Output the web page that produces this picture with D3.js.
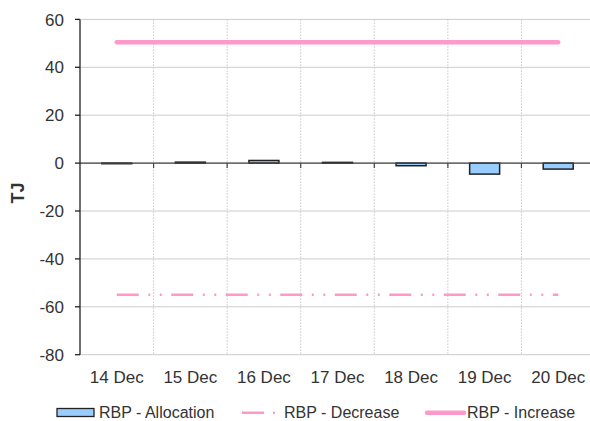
<!DOCTYPE html>
<html>
<head>
<meta charset="utf-8">
<script src="https://cdn.jsdelivr.net/npm/d3@7"></script>
<style>
  html, body { margin: 0; padding: 0; background: #fff; }
  svg { display: block; font-family: "Liberation Sans", Arial, sans-serif; }
  .tick-label { font-size: 17px; fill: #333; }
  .legend-label { font-size: 16px; fill: #333; }
</style>
</head>
<body>
<svg id="chart" width="590" height="421"></svg>
<script>
// data
const days = ['14 Dec', '15 Dec', '16 Dec', '17 Dec', '18 Dec', '19 Dec', '20 Dec'];
const allocation = [-0.2, 0.4, 1.1, 0.3, -1.1, -4.6, -2.5];
const decrease = [-55, -55, -55, -55, -55, -55, -55];
const increase = [50.5, 50.5, 50.5, 50.5, 50.5, 50.5, 50.5];
const yTicks = [60, 40, 20, 0, -20, -40, -60, -80];

const W = 590, H = 421;
const m = { left: 80, right: 595, top: 19.4, bottom: 354.7 };
const pink = '#ff99cc';

const svg = d3.select('#chart');

const x = d3.scaleBand().domain(days).range([m.left, m.right]).padding(0);
const y = d3.scaleLinear().domain([-80, 60]).range([m.bottom, m.top]);
const cx = d => x(d) + x.bandwidth() / 2;

// horizontal gridlines
svg.append('g').selectAll('line').data(yTicks).join('line')
  .attr('x1', m.left).attr('x2', W)
  .attr('y1', d => y(d)).attr('y2', d => y(d))
  .attr('stroke', '#cccccc').attr('stroke-width', 1);

// vertical gridlines (dotted) at category boundaries
svg.append('g').selectAll('line').data(days.slice(1)).join('line')
  .attr('x1', d => x(d)).attr('x2', d => x(d))
  .attr('y1', m.top).attr('y2', m.bottom)
  .attr('stroke', '#c8c8c8').attr('stroke-width', 1)
  .attr('stroke-dasharray', '1.5,1.5');

// bars
const barW = 30;
svg.append('g').selectAll('rect').data(allocation).join('rect')
  .attr('x', (d, i) => cx(days[i]) - barW / 2)
  .attr('width', barW)
  .attr('y', d => y(Math.max(0, d)))
  .attr('height', d => Math.max(0.6, Math.abs(y(d) - y(0))))
  .attr('fill', '#99ccff')
  .attr('stroke', '#222').attr('stroke-width', 1.5);

// zero axis line with category ticks
svg.append('line')
  .attr('x1', m.left).attr('x2', W)
  .attr('y1', y(0)).attr('y2', y(0))
  .attr('stroke', '#444').attr('stroke-width', 1.2);
svg.append('g').selectAll('line').data(days.slice(1)).join('line')
  .attr('x1', d => x(d)).attr('x2', d => x(d))
  .attr('y1', y(0)).attr('y2', y(0) + 5)
  .attr('stroke', '#444').attr('stroke-width', 1.2);

// increase line
const line = d3.line().x((d, i) => cx(days[i])).y(d => y(d));
svg.append('path').datum(increase)
  .attr('d', line).attr('fill', 'none')
  .attr('stroke', pink).attr('stroke-width', 4.5)
  .attr('stroke-linecap', 'round');

// decrease line
svg.append('path').datum(decrease)
  .attr('d', line).attr('fill', 'none')
  .attr('stroke', pink).attr('stroke-width', 2.5)
  .attr('stroke-dasharray', '22,9.5,2,9.5,2,9.5');

// y axis
svg.append('line')
  .attr('x1', m.left).attr('x2', m.left)
  .attr('y1', m.top).attr('y2', m.bottom)
  .attr('stroke', '#222').attr('stroke-width', 1.3);
svg.append('g').selectAll('line').data(yTicks).join('line')
  .attr('x1', m.left - 5).attr('x2', m.left)
  .attr('y1', d => y(d)).attr('y2', d => y(d))
  .attr('stroke', '#222').attr('stroke-width', 1.3);
svg.append('g').selectAll('text').data(yTicks).join('text')
  .attr('class', 'tick-label')
  .attr('x', 64).attr('y', d => y(d)).attr('dy', '0.36em')
  .attr('text-anchor', 'end')
  .text(d => d);

// x labels
svg.append('g').selectAll('text').data(days).join('text')
  .attr('class', 'tick-label')
  .attr('x', d => cx(d)).attr('y', 382.5)
  .attr('text-anchor', 'middle')
  .text(d => d);

// y title
svg.append('text')
  .attr('transform', 'translate(23.5,193) rotate(-90)')
  .attr('text-anchor', 'middle')
  .attr('font-size', 18).attr('font-weight', 'bold').attr('fill', '#333')
  .text('TJ');

// legend
const lg = svg.append('g');
lg.append('rect').attr('x', 57).attr('y', 408.5).attr('width', 37).attr('height', 8)
  .attr('fill', '#99ccff').attr('stroke', '#222').attr('stroke-width', 1.3);
lg.append('text').attr('class', 'legend-label').attr('x', 99).attr('y', 417.5).text('RBP - Allocation');

lg.append('line').attr('x1', 242).attr('x2', 279).attr('y1', 412.7).attr('y2', 412.7)
  .attr('stroke', pink).attr('stroke-width', 2.5).attr('stroke-dasharray', '22,9,2,20');
lg.append('text').attr('class', 'legend-label').attr('x', 284).attr('y', 417.5).text('RBP - Decrease');

lg.append('line').attr('x1', 427).attr('x2', 464).attr('y1', 412.7).attr('y2', 412.7)
  .attr('stroke', pink).attr('stroke-width', 4.5).attr('stroke-linecap', 'round');
lg.append('text').attr('class', 'legend-label').attr('x', 467).attr('y', 417.5).text('RBP - Increase');
</script>
</body>
</html>
